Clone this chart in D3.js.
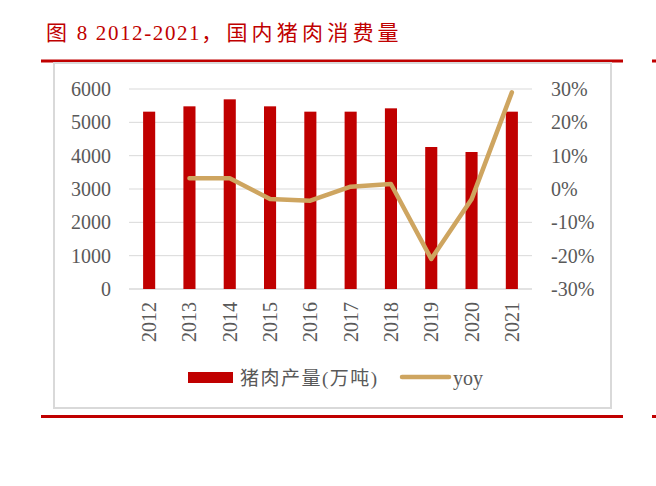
<!DOCTYPE html>
<html>
<head>
<meta charset="utf-8">
<script src="https://cdn.jsdelivr.net/npm/d3@7"></script>
<style>
html,body{margin:0;padding:0;background:#fff;}
svg{display:block;}
</style>
</head>
<body>
<svg id="chart" width="656" height="486"></svg>
<script>
const titleParts = ["图", " 8 2012-2021", "，国内猪肉消费量"];
const years = ["2012","2013","2014","2015","2016","2017","2018","2019","2020","2021"];
const production = [5320, 5480, 5690, 5480, 5320, 5320, 5420, 4260, 4110, 5320];
const yoy = [null, 3.2, 3.2, -3.0, -3.5, 0.7, 1.5, -21.0, -3.1, 29.0];
const leftTicks = [0, 1000, 2000, 3000, 4000, 5000, 6000];
const rightTicks = [-30, -20, -10, 0, 10, 20, 30];
const seriesNames = ["猪肉产量(万吨)", "yoy"];

const red = "#C00000", tan = "#CEA560", grid = "#D9D9D9", txt = "#595959";
const latin = "'Liberation Serif','Times New Roman',serif";
const cjk = "'Liberation Serif','Noto Sans CJK SC',serif";

const svg = d3.select("#chart");

// title
const t = svg.append("text").attr("x", 46).attr("y", 40)
  .attr("font-family", cjk).attr("font-size", 21).attr("fill", red);
const spacing = [3, 1.6, 4.2];
titleParts.forEach((p, i) => t.append("tspan").attr("letter-spacing", spacing[i]).text(p));

// red rules
[59.5, 415].forEach(y => {
  svg.append("rect").attr("x", 41).attr("y", y).attr("width", 582).attr("height", 3).attr("fill", red);
  svg.append("rect").attr("x", 652).attr("y", y).attr("width", 4).attr("height", 3).attr("fill", red);
});

// frame
svg.append("rect").attr("x", 54).attr("y", 63).attr("width", 557).attr("height", 345)
  .attr("fill", "none").attr("stroke", grid).attr("stroke-width", 2);

const x = d3.scaleBand().domain(years).range([129, 532]).paddingInner(0.7).paddingOuter(0.35);
const yL = d3.scaleLinear().domain([0, 6000]).range([289, 89]);
const yR = d3.scaleLinear().domain([-30, 30]).range([289, 89]);

// gridlines
svg.append("g").selectAll("line").data(leftTicks).join("line")
  .attr("x1", 129).attr("x2", 532)
  .attr("y1", d => yL(d)).attr("y2", d => yL(d))
  .attr("stroke", grid).attr("stroke-width", d => d === 0 ? 1.5 : 1);

// axes
const gl = svg.append("g").attr("transform", "translate(129,0)")
  .call(d3.axisLeft(yL).tickValues(leftTicks).tickSize(0).tickPadding(18).tickFormat(d => String(d)));
gl.select(".domain").remove();
gl.selectAll("text").attr("font-family", latin).attr("font-size", 20).attr("fill", txt);

const gr = svg.append("g").attr("transform", "translate(532,0)")
  .call(d3.axisRight(yR).tickValues(rightTicks).tickSize(0).tickPadding(19).tickFormat(d => d + "%"));
gr.select(".domain").remove();
gr.selectAll("text").attr("font-family", latin).attr("font-size", 20).attr("fill", txt);

// x labels
svg.append("g").selectAll("text").data(years).join("text")
  .attr("transform", d => `translate(${x(d) + x.bandwidth()/2},302) rotate(-90)`)
  .attr("text-anchor", "end").attr("dominant-baseline", "central")
  .attr("font-family", latin).attr("font-size", 20).attr("fill", txt)
  .text(d => d);

// bars
svg.append("g").selectAll("rect").data(years).join("rect")
  .attr("x", d => x(d)).attr("width", x.bandwidth())
  .attr("y", (d, i) => yL(production[i]))
  .attr("height", (d, i) => yL(0) - yL(production[i]))
  .attr("fill", red);

// line
const pts = years.map((d, i) => [x(d) + x.bandwidth()/2, yoy[i]]).filter(p => p[1] !== null);
svg.append("path").datum(pts)
  .attr("d", d3.line().x(p => p[0]).y(p => yR(p[1])))
  .attr("fill", "none").attr("stroke", tan).attr("stroke-width", 4.5)
  .attr("stroke-linecap", "round").attr("stroke-linejoin", "round");

// legend
svg.append("rect").attr("x", 188).attr("y", 372).attr("width", 45).attr("height", 11).attr("fill", red);
svg.append("text").attr("x", 240).attr("y", 378).attr("dominant-baseline", "central")
  .attr("font-family", cjk).attr("font-size", 19).attr("letter-spacing", 1.5).attr("fill", txt).text(seriesNames[0]);
svg.append("line").attr("x1", 402).attr("x2", 449).attr("y1", 377).attr("y2", 377)
  .attr("stroke", tan).attr("stroke-width", 4.5).attr("stroke-linecap", "round");
svg.append("text").attr("x", 453).attr("y", 378).attr("dominant-baseline", "central")
  .attr("font-family", latin).attr("font-size", 20).attr("fill", txt).text(seriesNames[1]);
</script>
</body>
</html>
